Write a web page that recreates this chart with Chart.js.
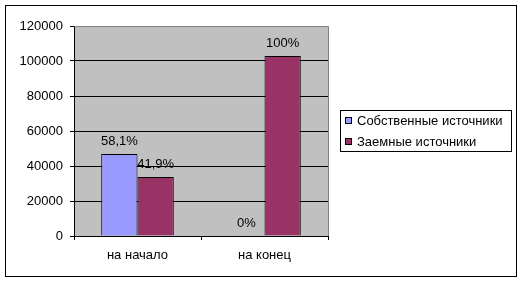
<!DOCTYPE html>
<html>
<head>
<meta charset="utf-8">
<script src="https://cdn.jsdelivr.net/npm/chart.js@4/dist/chart.umd.min.js"></script>
<style>
  html, body { margin: 0; padding: 0; background: #ffffff; }
  #wrap { width: 526px; height: 282px; }
</style>
</head>
<body>
<div id="wrap"><canvas id="c" width="526" height="282"></canvas></div>
<script>
const categories = ["на начало", "на конец"];
const seriesNames = ["Собственные источники", "Заемные источники"];
const ownValues = [46860, 0];
const borrowedValues = [33720, 102860];
const ownLabels = ["58,1%", "0%"];
const borrowedLabels = ["41,9%", "100%"];
const yTicks = [0, 20000, 40000, 60000, 80000, 100000, 120000];

const FONT = "'Liberation Sans', Arial, sans-serif";
const FS = 13;
const colors = ["#9999FF", "#993366"];
const pctLabels = [ownLabels, borrowedLabels];

const decor = {
  id: 'decor',
  beforeInit(chart) {
    if ('letterSpacing' in chart.ctx) chart.ctx.letterSpacing = '0.5px';
  },
  beforeDraw(chart) {
    const ctx = chart.ctx, a = chart.chartArea;
    ctx.save();
    ctx.fillStyle = '#ffffff';
    ctx.fillRect(0, 0, chart.width, chart.height);
    ctx.fillStyle = '#C0C0C0';
    ctx.fillRect(a.left, a.top, a.right - a.left, a.bottom - a.top);
    ctx.restore();
  },
  afterDraw(chart) {
    const ctx = chart.ctx, a = chart.chartArea;
    ctx.save();
    ctx.strokeStyle = '#808080';
    ctx.lineWidth = 1;
    ctx.beginPath();
    ctx.moveTo(Math.round(a.left) + 0.5, Math.round(a.top) + 0.5);
    ctx.lineTo(Math.round(a.right) + 0.5, Math.round(a.top) + 0.5);
    ctx.lineTo(Math.round(a.right) + 0.5, Math.round(a.bottom));
    ctx.stroke();
    ctx.strokeStyle = '#000000';
    ctx.strokeRect(5.5, 5.5, 511, 271);
    ctx.fillStyle = '#000000';
    ctx.font = FS + 'px ' + FONT;
    ctx.textAlign = 'center';
    ctx.textBaseline = 'middle';
    chart.data.datasets.forEach((ds, di) => {
      const meta = chart.getDatasetMeta(di);
      meta.data.forEach((bar, i) => {
        ctx.fillText(pctLabels[di][i], bar.x, bar.y - 12.5);
      });
    });
    const lx = 340.5, ly = 110.5, lw = 171, lh = 41;
    ctx.fillStyle = '#ffffff';
    ctx.fillRect(lx, ly, lw, lh);
    ctx.strokeStyle = '#000000';
    ctx.strokeRect(lx, ly, lw, lh);
    ctx.textAlign = 'left';
    chart.data.datasets.forEach((ds, di) => {
      const cy = 121 + di * 21;
      ctx.fillStyle = ds.backgroundColor;
      ctx.fillRect(345, cy - 4, 7, 7);
      ctx.strokeRect(345.5, cy - 3.5, 6, 6);
      ctx.fillStyle = '#000000';
      ctx.fillText(ds.label, 357, cy);
    });
    ctx.restore();
  }
};

new Chart(document.getElementById('c'), {
  type: 'bar',
  data: {
    labels: categories,
    datasets: [
      { label: seriesNames[0], data: ownValues, backgroundColor: colors[0], borderColor: '#000000', borderWidth: 1 },
      { label: seriesNames[1], data: borrowedValues, backgroundColor: colors[1], borderColor: '#000000', borderWidth: 1 }
    ]
  },
  options: {
    responsive: false,
    animation: false,
    devicePixelRatio: 1,
    layout: { padding: { left: 0, right: 198, top: 26, bottom: 0 } },
    categoryPercentage: 2 / 3.5,
    barPercentage: 1,
    plugins: { legend: { display: false }, tooltip: { enabled: false } },
    scales: {
      x: {
        grid: { drawOnChartArea: false, drawTicks: true, tickLength: 4, color: '#000000', offset: true },
        border: { color: '#000000' },
        ticks: { color: '#000000', font: { family: FONT, size: FS }, padding: 8 },
        afterFit(s) { s.height = 46; }
      },
      y: {
        min: 0, max: 120000,
        afterBuildTicks(s) { s.ticks = yTicks.map(v => ({ value: v })); },
        grid: { color: '#000000', tickLength: 4 },
        border: { color: '#000000' },
        ticks: { color: '#000000', font: { family: FONT, size: FS }, padding: 7, callback: v => String(v) },
        afterFit(s) { s.width = 74; }
      }
    }
  },
  plugins: [decor]
});
</script>
</body>
</html>
